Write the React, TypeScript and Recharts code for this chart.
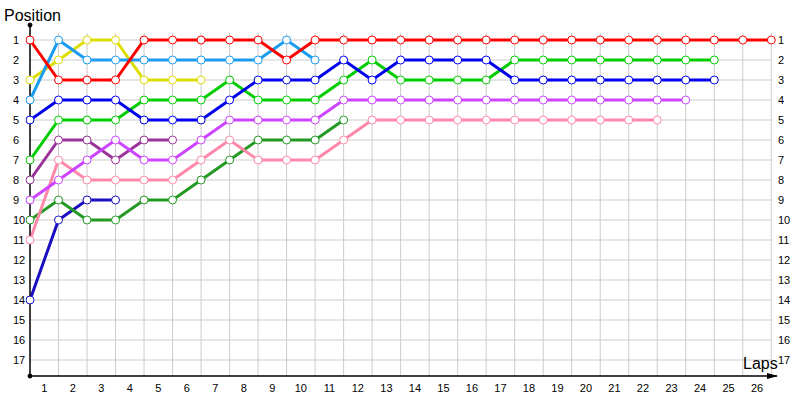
import { LineChart, Line, XAxis, YAxis, ReferenceLine, ReferenceDot, Label } from "recharts";

// lap 0 is the grid start
const laps = [0, 1, 2, 3, 4, 5, 6, 7, 8, 9, 10, 11, 12, 13, 14, 15, 16, 17, 18, 19, 20, 21, 22, 23, 24, 25, 26];
const lapLabels = [1, 2, 3, 4, 5, 6, 7, 8, 9, 10, 11, 12, 13, 14, 15, 16, 17, 18, 19, 20, 21, 22, 23, 24, 25, 26];
const positions = [1, 2, 3, 4, 5, 6, 7, 8, 9, 10, 11, 12, 13, 14, 15, 16, 17];

const red = [1, 3, 3, 3, 1, 1, 1, 1, 1, 2, 1, 1, 1, 1, 1, 1, 1, 1, 1, 1, 1, 1, 1, 1, 1, 1, 1];
const sky = [4, 1, 2, 2, 2, 2, 2, 2, 2, 1, 2];
const yellow = [3, 2, 1, 1, 3, 3, 3];
const blue = [5, 4, 4, 4, 5, 5, 5, 4, 3, 3, 3, 2, 3, 2, 2, 2, 2, 3, 3, 3, 3, 3, 3, 3, 3];
const green = [7, 5, 5, 5, 4, 4, 4, 3, 4, 4, 4, 3, 2, 3, 3, 3, 3, 2, 2, 2, 2, 2, 2, 2, 2];
const magenta = [9, 8, 7, 6, 7, 7, 6, 5, 5, 5, 5, 4, 4, 4, 4, 4, 4, 4, 4, 4, 4, 4, 4, 4];
const purple = [8, 6, 6, 7, 6, 6];
const pink = [11, 7, 8, 8, 8, 8, 7, 6, 7, 7, 7, 6, 5, 5, 5, 5, 5, 5, 5, 5, 5, 5, 5];
const darkGreen = [10, 9, 10, 10, 9, 9, 8, 7, 6, 6, 6, 5];
const navy = [14, 10, 9, 9];

const series = [
  { key: "navy", values: navy, color: "#1a0fc0" },
  { key: "darkGreen", values: darkGreen, color: "#229922" },
  { key: "pink", values: pink, color: "#ff88aa" },
  { key: "purple", values: purple, color: "#993399" },
  { key: "magenta", values: magenta, color: "#cc44ff" },
  { key: "green", values: green, color: "#00cc00" },
  { key: "blue", values: blue, color: "#0000ee" },
  { key: "yellow", values: yellow, color: "#dddd00" },
  { key: "sky", values: sky, color: "#1a9cf0" },
  { key: "red", values: red, color: "#ff0000" },
];

const data = laps.map((lap, i) => {
  const row: Record<string, number | null> = { lap };
  series.forEach((s) => {
    row[s.key] = s.values[i] ?? null;
  });
  return row;
});

const FONT = "'Liberation Sans', Arial, sans-serif";
const GRID = "#cccccc";

function LeftTick({ y, payload }: { y?: number; payload?: { value: number } }) {
  return (
    <text x={13} y={y} dy="0.35em" fontSize={11} fontFamily={FONT} fill="#000">
      {payload?.value}
    </text>
  );
}

function RightTick({ y, payload }: { y?: number; payload?: { value: number } }) {
  return (
    <text x={778} y={y} dy="0.35em" fontSize={11} fontFamily={FONT} fill="#000">
      {payload?.value}
    </text>
  );
}

export default function App() {
  return (
    <div style={{ width: 800, height: 400, background: "#fff" }}>
      <style>{"body{margin:0}"}</style>
      <LineChart width={800} height={400} data={data} margin={{ top: 25, right: 0, bottom: 0, left: 0 }}>
        <XAxis
          dataKey="lap"
          type="number"
          domain={[0, 26.2]}
          allowDataOverflow
          ticks={lapLabels.map((l) => l - 0.5)}
          tickFormatter={(v: number) => String(Math.round(v + 0.5))}
          tickLine={false}
          axisLine={{ stroke: "#000", strokeWidth: 1.5 }}
          height={24}
          tick={{ fontSize: 11, fontFamily: FONT, fill: "#000" }}
          interval={0}
        >
          <Label
            content={() => (
              <text x={743} y={369} fontSize={16} fontFamily={FONT} fill="#000">
                Laps
              </text>
            )}
          />
        </XAxis>
        <YAxis
          type="number"
          domain={[0.25, 17.8]}
          allowDataOverflow
          reversed
          ticks={positions}
          interval={0}
          width={30}
          tickLine={false}
          axisLine={{ stroke: "#000", strokeWidth: 1.5 }}
          tick={<LeftTick />}
        >
          <Label
            content={() => (
              <text x={4} y={21} fontSize={16} fontFamily={FONT} fill="#000">
                Position
              </text>
            )}
          />
        </YAxis>
        <YAxis
          yAxisId="right"
          orientation="right"
          type="number"
          domain={[0.25, 17.8]}
          allowDataOverflow
          reversed
          ticks={positions}
          interval={0}
          width={23}
          tickLine={false}
          axisLine={false}
          tick={<RightTick />}
        />
        {positions.map((p) => (
          <ReferenceLine
            key={"h" + p}
            segment={[{ x: 0, y: p }, { x: 26, y: p }]}
            stroke={GRID}
            strokeWidth={1}
            ifOverflow="visible"
          />
        ))}
        {laps.slice(1).map((l) => (
          <ReferenceLine
            key={"v" + l}
            segment={[{ x: l, y: 0.65 }, { x: l, y: 17.8 }]}
            stroke={GRID}
            strokeWidth={1}
            ifOverflow="visible"
          />
        ))}
        {series.map((s) => (
          <Line
            key={s.key}
            dataKey={s.key}
            type="linear"
            stroke={s.color}
            strokeWidth={3}
            connectNulls={false}
            dot={{ r: 4, fill: "#fff", stroke: s.color, strokeWidth: 1, clipDot: false }}
            activeDot={false}
            isAnimationActive={false}
          />
        ))}
        <ReferenceDot x={0} y={0.25} r={2} fill="#000" stroke="#000" ifOverflow="visible" />
        <ReferenceDot x={0} y={17.8} r={2} fill="#000" stroke="#000" ifOverflow="visible" />
        <ReferenceDot
          x={26.2}
          y={17.8}
          ifOverflow="visible"
          shape={(p: { cx?: number; cy?: number }) => (
            <polygon
              points={`${(p.cx ?? 0) - 10},${(p.cy ?? 0) - 3} ${(p.cx ?? 0) + 1},${p.cy ?? 0} ${(p.cx ?? 0) - 10},${(p.cy ?? 0) + 3}`}
              fill="#000"
            />
          )}
        />
      </LineChart>
    </div>
  );
}
